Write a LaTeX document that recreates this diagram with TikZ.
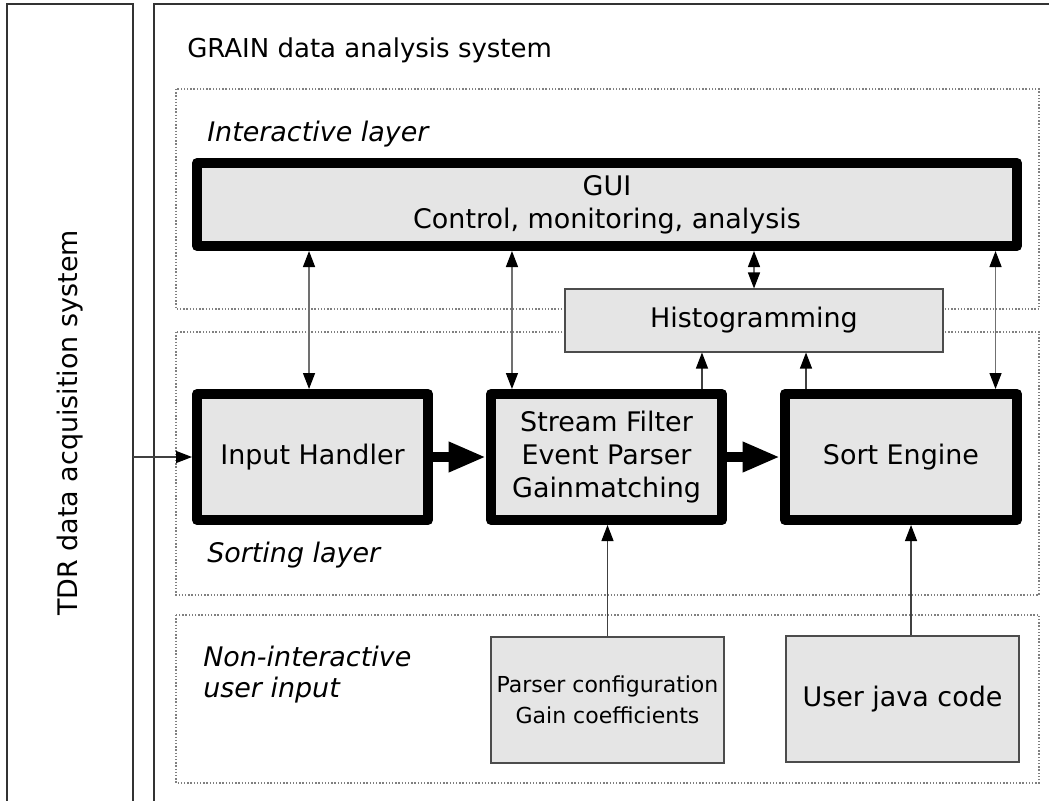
\documentclass[tikz,border=0pt]{standalone}
\usepackage{fontspec}
\setmainfont{DejaVu Sans}
\usetikzlibrary{arrows.meta,positioning,calc}
\definecolor{boxgray}{HTML}{E5E5E5}
\definecolor{linegray}{HTML}{707070}
\definecolor{dotgray}{HTML}{808080}
\tikzset{
  big/.style={font=\fontsize{20.2pt}{25pt}\selectfont},
  thickbox/.style={big, draw=black, line width=7.5pt, line join=round, fill=boxgray, align=center, inner sep=0pt},
  thinbox/.style={draw=black!70, line width=0.8pt, fill=boxgray, align=center, inner sep=0pt},
  layer/.style={draw=dotgray, line width=0.8pt, dash pattern=on 1pt off 1.4pt},
  frame/.style={draw=black!80, line width=0.8pt},
  dbl/.style={draw=linegray, line width=1pt, {Triangle[length=12pt,width=9pt,color=black]}-{Triangle[length=12pt,width=9pt,color=black]}},
  sgl/.style={draw=black!75, line width=0.9pt, -{Triangle[length=12pt,width=9pt,color=black]}},
  bigarrow/.style={draw=black, line width=7.5pt, -{Triangle[length=28pt,width=21pt]}},
  lbl/.style={anchor=base west, inner sep=0pt},
  itl/.style={font=\fontsize{20.2pt}{23.25pt}\selectfont\itshape},
}
\begin{document}
\begin{tikzpicture}[x=0.75pt,y=-0.75pt]
\useasboundingbox (0,0) rectangle (1049,800);
\clip (0,0) rectangle (1049,800);
% outer frames
\draw[frame] (7,815) -- (7,4) -- (133,4) -- (133,815);
\draw[frame] (154,815) -- (154,4) -- (1070,4);
\node[big, rotate=90, inner sep=0pt] (tdr) at (70,423) {TDR data acquisition system};
\coordinate (tdrout) at (133,457);
\node[lbl, font=\fontsize{19.5pt}{24pt}\selectfont] (title) at (187,57) {GRAIN data analysis system};
% layers
\draw[layer] (176,89) rectangle (1039,309);
\draw[layer] (176,332) rectangle (1039,595);
\draw[layer] (176,615) rectangle (1039,783);
\node[lbl, itl] (il) at (207,141) {Interactive layer};
\node[lbl, itl] (sl) at (207,562) {Sorting layer};
\node[itl, anchor=north west, inner sep=0pt, align=left] (nl) at (203,646) {Non-interactive\\user input};
% boxes
\node[thickbox, minimum width=615pt, minimum height=62.25pt] (gui) at (607,204.5) {GUI\\Control, monitoring, analysis};
\node[thinbox, big, minimum width=283.5pt, minimum height=47.25pt] (hist) at (754,320.5) {Histogramming};
\node[thickbox, minimum width=173.25pt, minimum height=94.5pt] (input) at (312.5,457) {Input Handler};
\node[thickbox, minimum width=173.25pt, minimum height=94.5pt] (stream) at (606.5,457) {Stream Filter\\Event Parser\\Gainmatching};
\node[thickbox, minimum width=174pt, minimum height=94.5pt] (sort) at (901,457) {Sort Engine};
\node[thinbox, font=\fontsize{16.5pt}{23.25pt}\selectfont, minimum width=174.75pt, minimum height=94.5pt] (parser) at (607.5,700) {Parser configuration\\Gain coefficients};
\node[thinbox, big, minimum width=174.75pt, minimum height=94.5pt] (user) at (902.5,699) {User java code};
% connectors
\draw[dbl] ([xshift=-2.6pt]input.north |- gui.south) -- ([xshift=-2.6pt]input.north);
\draw[dbl] ([xshift=-70.9pt]stream.north |- gui.south) -- ([xshift=-70.9pt]stream.north);
\draw[dbl] (gui.south -| hist.north) -- (hist.north);
\draw[dbl] ([xshift=70.9pt]sort.north |- gui.south) -- ([xshift=70.9pt]sort.north);
\draw[sgl] ([xshift=71.6pt]stream.north) -- ([xshift=71.6pt]stream.north |- hist.south);
\draw[sgl] ([xshift=-71.25pt]sort.north) -- ([xshift=-71.25pt]sort.north |- hist.south);
\draw[sgl] (tdrout) -- (input.west);
\draw[bigarrow] (input.east) -- (stream.west);
\draw[bigarrow] (stream.east) -- (sort.west);
\draw[sgl] (parser.north) -- (parser.north |- stream.south);
\draw[sgl] ([xshift=6.4pt]user.north) -- ([xshift=6.4pt]user.north |- sort.south);
\end{tikzpicture}
\end{document}
